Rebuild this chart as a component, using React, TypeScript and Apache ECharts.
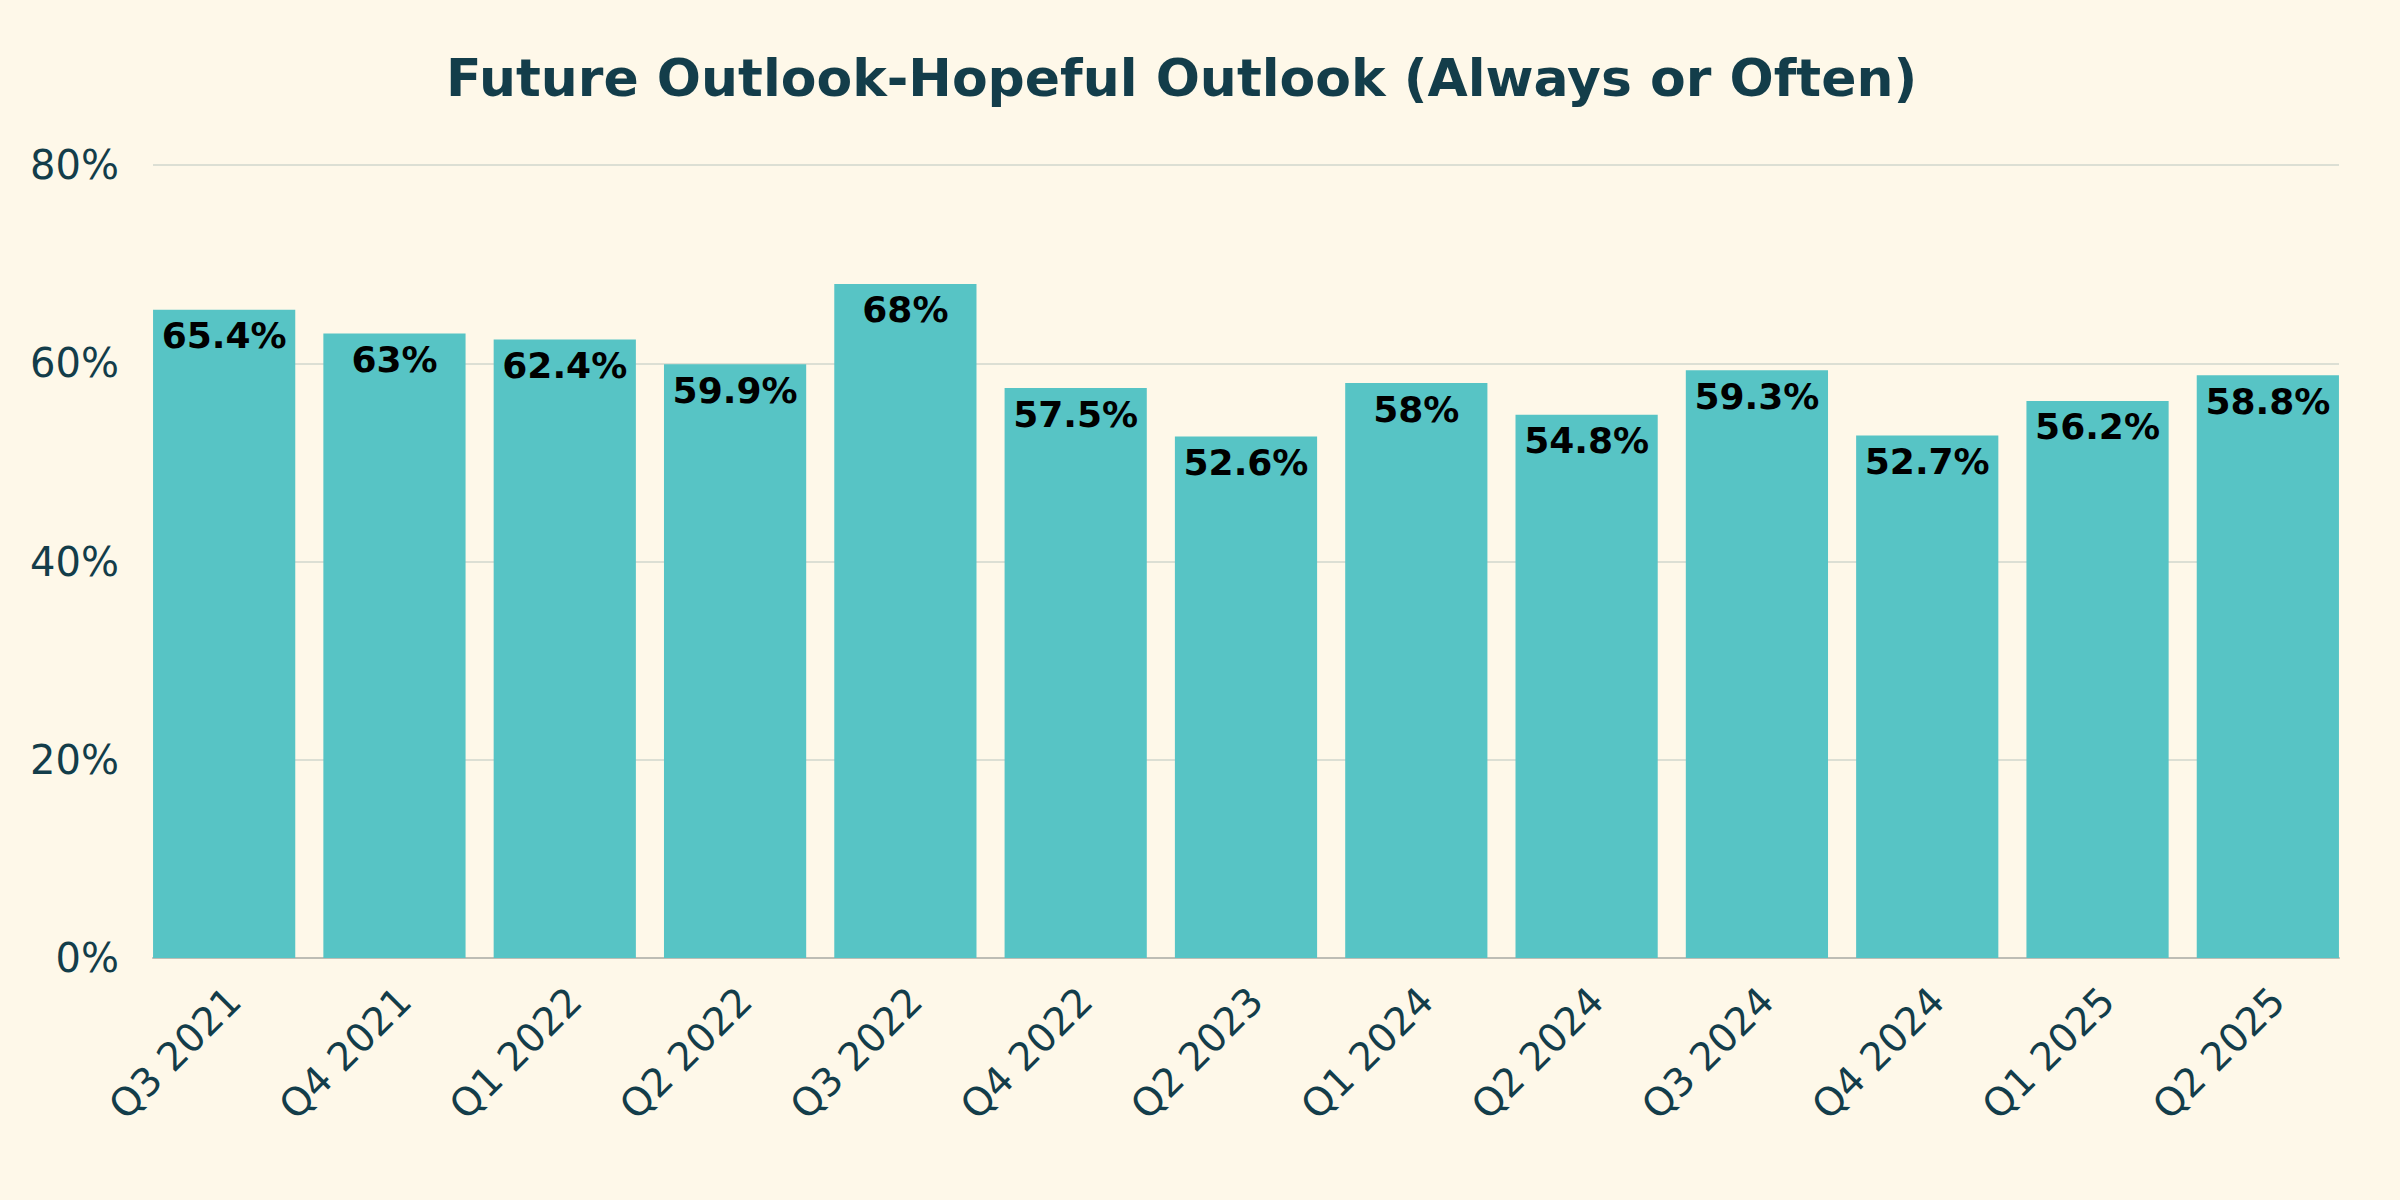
import React, { useEffect, useRef } from "react";
import * as echarts from "echarts";

const categories = ["Q3 2021", "Q4 2021", "Q1 2022", "Q2 2022", "Q3 2022", "Q4 2022", "Q2 2023", "Q1 2024", "Q2 2024", "Q3 2024", "Q4 2024", "Q1 2025", "Q2 2025"];
const values = [65.4, 63, 62.4, 59.9, 68, 57.5, 52.6, 58, 54.8, 59.3, 52.7, 56.2, 58.8];
const titleText = "Future Outlook-Hopeful Outlook (Always or Often)";

const BG = "#fef8e9";
const BAR = "#57c4c5";
const INK = "#133d4a";
const FONT = "'DejaVu Sans', sans-serif";

export default function App() {
  const ref = useRef<HTMLDivElement>(null);
  useEffect(() => {
    document.body.style.margin = "0";
    document.body.style.background = BG;
    if (!ref.current) return;
    const chart = echarts.init(ref.current, null, { renderer: "svg" });
    chart.setOption({
      animation: false,
      backgroundColor: BG,
      title: {
        text: titleText,
        left: 441,
        top: 47,
        textStyle: { fontFamily: FONT, fontWeight: 700, fontSize: 52, color: INK },
      },
      grid: [
        { left: 153, right: 61, top: 165, bottom: 242, containLabel: false },
        { left: 139, right: 47, top: 165, bottom: 242, containLabel: false },
      ],
      xAxis: [
        {
          type: "value",
          gridIndex: 0,
          min: 0,
          max: 1,
          axisTick: { show: false },
          axisLabel: { show: false },
          splitLine: { show: false },
          axisLine: { show: true, onZero: false, lineStyle: { color: "#bdbdb5", width: 2 } },
        },
        {
          type: "category",
          gridIndex: 1,
          data: categories,
          axisTick: { show: false },
          axisLine: { show: false },
          axisLabel: {
            rotate: 45,
            margin: 46,
            padding: [0, -14, 0, 0],
            color: INK,
            fontFamily: FONT,
            fontWeight: 400,
            fontSize: 39,
          },
        },
      ],
      yAxis: [
        {
          type: "value",
          gridIndex: 0,
          min: 0,
          max: 80,
          interval: 20,
          axisLine: { show: false },
          axisTick: { show: false },
          splitLine: { lineStyle: { color: "#dcdfd4", width: 2 } },
          axisLabel: { formatter: "{value}%", margin: 34, color: INK, fontFamily: FONT, fontWeight: 400, fontSize: 40 },
        },
        {
          type: "value",
          gridIndex: 1,
          min: 0,
          max: 80,
          interval: 20,
          show: false,
          splitLine: { show: false },
        },
      ],
      series: [
        {
          type: "bar",
          xAxisIndex: 1,
          yAxisIndex: 1,
          data: values,
          barCategoryGap: "16.5%",
          itemStyle: { color: BAR },
          label: {
            show: true,
            position: "insideTop",
            distance: 8,
            formatter: "{c}%",
            color: "#000000",
            fontFamily: FONT,
            fontWeight: 700,
            fontSize: 36,
          },
        },
      ],
    });
    return () => chart.dispose();
  }, []);
  return <div ref={ref} style={{ width: 2400, height: 1200 }} />;
}
